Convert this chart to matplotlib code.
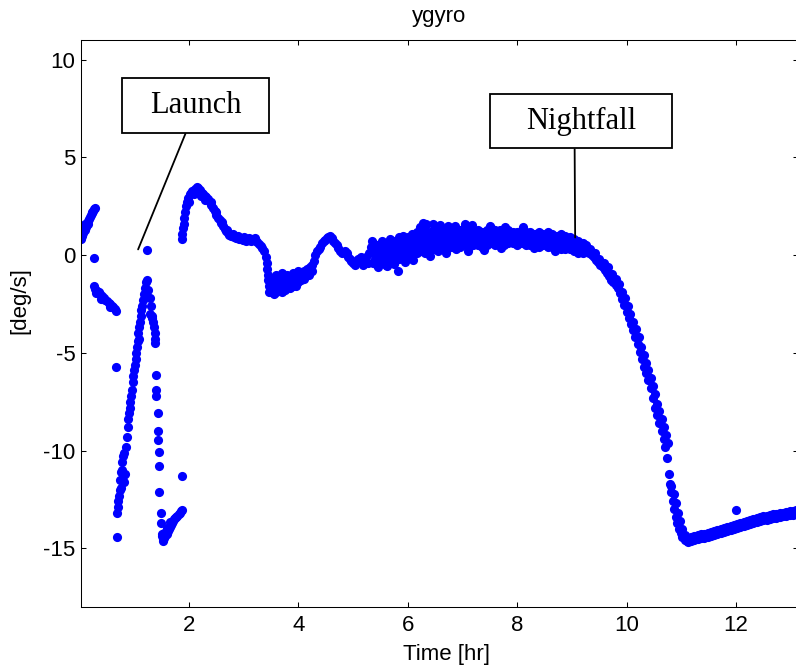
import numpy as np
import matplotlib
matplotlib.use("Agg")
import matplotlib.pyplot as plt
from matplotlib.path import Path

# ---------------- data ----------------
title = "ygyro"
xlabel = "Time [hr]"
ylabel = "[deg/s]"
xticks = [2, 4, 6, 8, 10, 12]
yticks = [-15, -10, -5, 0, 5, 10]

pre_launch_rise = [(0.03, 0.8), (0.04, 1.1), (0.05, 1.0), (0.07, 1.15), (0.09, 1.3), (0.10, 1.6),
                   (0.11, 1.45), (0.13, 1.6), (0.15, 1.75), (0.16, 1.6), (0.17, 1.85), (0.19, 1.95),
                   (0.21, 2.05), (0.22, 2.2), (0.23, 2.15), (0.25, 2.25), (0.27, 2.35), (0.29, 2.4)]
pre_launch_fall = [(0.26, -1.6), (0.29, -1.75), (0.32, -1.85), (0.35, -1.9), (0.38, -2.0), (0.41, -2.1),
                   (0.44, -2.2), (0.47, -2.3), (0.50, -2.35), (0.53, -2.45), (0.56, -2.5), (0.59, -2.6),
                   (0.62, -2.65), (0.65, -2.75), (0.67, -2.85), (0.30, -1.95), (0.40, -2.25), (0.55, -2.65)]
launch_rise = [(0.69, -13.2), (0.70, -12.9), (0.70, -12.6), (0.72, -12.3), (0.73, -12.0), (0.75, -11.9),
               (0.74, -11.5), (0.76, -11.1), (0.78, -11.0), (0.80, -11.3), (0.82, -11.6), (0.83, -11.2),
               (0.77, -10.6), (0.79, -10.3), (0.81, -10.1), (0.84, -9.8), (0.86, -9.3), (0.88, -8.8),
               (0.89, -8.4), (0.90, -8.1), (0.92, -7.8), (0.93, -7.5), (0.94, -7.2), (0.95, -6.9),
               (0.97, -6.5), (0.98, -6.2), (1.00, -5.9), (1.02, -5.6), (1.04, -5.3), (1.03, -5.0),
               (1.05, -4.7), (1.07, -4.4), (1.09, -4.3), (1.06, -4.0), (1.08, -3.7), (1.10, -3.4),
               (1.12, -3.1), (1.13, -2.8), (1.14, -2.6), (1.16, -2.3), (1.18, -2.0), (1.20, -1.7),
               (1.21, -1.4), (1.23, -1.3), (1.26, -1.8), (1.28, -2.2), (1.30, -2.6), (1.29, -3.0),
               (1.32, -3.2)]
launch_fall = [(1.33, -3.1), (1.35, -3.4), (1.36, -3.7), (1.38, -4.0), (1.37, -4.3), (1.38, -4.5),
               (1.40, -6.15), (1.40, -6.9), (1.40, -7.2), (1.43, -8.1), (1.43, -9.0), (1.43, -9.45),
               (1.46, -10.05), (1.46, -10.8), (1.46, -12.1), (1.49, -13.2), (1.49, -13.7),
               (1.50, -14.25), (1.52, -14.5)]
launch_bottom = [(1.53, -14.6), (1.55, -14.45), (1.57, -14.35), (1.59, -14.25), (1.61, -14.1),
                 (1.63, -14.0), (1.65, -13.9), (1.67, -13.8), (1.69, -13.7), (1.71, -13.6),
                 (1.73, -13.5), (1.75, -13.45), (1.77, -13.4), (1.79, -13.35), (1.81, -13.25),
                 (1.84, -13.2), (1.86, -13.1), (1.88, -13.05), (1.51, -14.35), (1.54, -14.2),
                 (1.60, -13.95), (1.66, -13.65)]
isolated = [(0.26, -0.17), (0.67, -5.73), (0.69, -14.42), (1.24, 0.24), (1.88, -11.3), (12.0, -13.02),
            (5.83, -0.82), (6.28, 1.66), (6.47, 1.57), (6.74, 1.49), (5.58, -0.39), (7.05, 1.57),
            (5.34, 0.72)]
day_peak = [(1.87, 0.8), (1.88, 1.1), (1.89, 1.4), (1.90, 1.6), (1.91, 1.9), (1.93, 2.2), (1.95, 2.5),
            (1.97, 2.7), (1.99, 2.9), (2.01, 3.1), (2.03, 3.2), (2.05, 3.3), (2.08, 3.3), (2.11, 3.4),
            (2.14, 3.5), (2.17, 3.45), (2.20, 3.35), (2.23, 3.2), (2.26, 3.1), (2.29, 3.0), (2.32, 2.95),
            (2.35, 2.85), (2.38, 2.7), (2.41, 2.55), (2.44, 2.4), (2.47, 2.25), (2.50, 2.05), (2.53, 1.9),
            (2.56, 1.8), (2.59, 1.65), (2.62, 1.5), (2.65, 1.35), (2.68, 1.25), (2.71, 1.15), (2.74, 1.05),
            (2.77, 1.0), (2.80, 0.95), (2.83, 0.9), (2.86, 0.85), (2.89, 0.85), (2.92, 0.8), (2.95, 0.8),
            (2.98, 0.75), (3.01, 0.75), (3.04, 0.7), (3.07, 0.75), (3.10, 0.75), (3.13, 0.7), (3.16, 0.8),
            (3.19, 0.75), (3.22, 0.7), (3.25, 0.65), (3.28, 0.55), (3.31, 0.45), (3.34, 0.35), (3.37, 0.2),
            (3.40, -0.1), (3.42, -0.4), (3.43, -0.7), (3.44, -1.0), (3.45, -1.3), (3.46, -1.6), (3.47, -1.9),
            (2.00, 2.7), (2.10, 3.1), (2.16, 3.2), (2.22, 3.0), (2.30, 2.8), (2.40, 2.7), (2.50, 2.2),
            (2.60, 1.7), (2.70, 1.3), (2.80, 1.1), (2.90, 0.95), (3.00, 0.9), (3.10, 0.85), (3.20, 0.85)]
day_dip = [(3.50, -1.4), (3.53, -1.8), (3.56, -1.2), (3.59, -1.6), (3.62, -1.3), (3.65, -1.7), (3.68, -1.1),
           (3.71, -1.5), (3.74, -1.2), (3.77, -1.7), (3.80, -1.3), (3.83, -1.5), (3.86, -1.1), (3.89, -1.4),
           (3.92, -1.2), (3.95, -1.0), (3.98, -1.3), (4.01, -0.9), (4.04, -1.1), (4.07, -0.9), (4.10, -0.8),
           (4.13, -1.0), (4.16, -0.7), (4.19, -0.8), (4.22, -0.6), (4.25, -0.5), (4.28, -0.3), (4.31, 0.0),
           (4.34, 0.2), (4.37, 0.3), (4.40, 0.4), (4.43, 0.6), (4.46, 0.7), (4.49, 0.75), (4.52, 0.85),
           (4.55, 0.9), (4.58, 0.95), (4.61, 0.85), (4.64, 0.7), (4.67, 0.6), (4.70, 0.5), (4.73, 0.35),
           (4.76, 0.2), (4.79, 0.1), (4.82, 0.15), (4.85, 0.2), (4.88, 0.1), (4.91, -0.1), (4.94, -0.2),
           (4.97, -0.3), (5.00, -0.4), (5.03, -0.5), (5.06, -0.3), (5.09, -0.2), (5.12, -0.35), (5.15, -0.1),
           (5.18, -0.5), (5.21, -0.3), (5.24, -0.1), (5.27, -0.4), (5.30, 0.1), (5.33, 0.4),
           (3.50, -1.9), (3.55, -2.0), (3.60, -1.9), (3.70, -1.9), (3.75, -1.8), (3.85, -1.7), (3.90, -1.6),
           (3.95, -1.6), (4.00, -1.4), (4.05, -1.3), (3.60, -1.0), (3.70, -0.9), (3.80, -1.0), (3.90, -0.9),
           (4.00, -0.8), (4.10, -1.2), (4.20, -1.0), (4.25, -0.8)]

band_t = [5.36, 5.44, 5.52, 5.60, 5.68, 5.76, 5.84, 5.92, 6.00, 6.08, 6.16, 6.24, 6.32, 6.40, 6.48, 6.56,
          6.64, 6.72, 6.80, 6.88, 6.96, 7.04, 7.12, 7.20, 7.28, 7.36, 7.44, 7.52, 7.60, 7.68, 7.76, 7.84,
          7.92, 8.00, 8.08, 8.16, 8.24, 8.32, 8.40, 8.48, 8.56, 8.64, 8.72, 8.80, 8.88, 8.96, 9.04, 9.12, 9.20]
band_upper = [0.6, 0.5, 0.7, 0.6, 0.8, 0.7, 0.9, 1.0, 0.9, 1.1, 1.2, 1.3, 1.5, 1.2, 1.3, 1.4, 1.3, 1.4, 1.3, 1.2,
              1.3, 1.5, 1.4, 1.3, 1.3, 1.2, 1.3, 1.4, 1.3, 1.3, 1.2, 1.3, 1.2, 1.2, 1.3, 1.2, 1.2, 1.1, 1.2, 1.1,
              1.2, 1.1, 1.0, 1.1, 1.0, 0.9, 0.8, 0.7, 0.6]
band_middle = [0.1, 0.0, 0.2, 0.1, 0.3, 0.2, 0.4, 0.5, 0.4, 0.5, 0.6, 0.7, 0.8, 0.6, 0.8, 0.7, 0.9, 0.8, 0.9, 0.8,
               0.9, 1.0, 0.9, 0.9, 1.0, 0.8, 0.9, 1.0, 0.9, 0.9, 0.8, 0.9, 0.9, 0.8, 0.9, 0.9, 0.8, 0.9, 0.8, 0.8,
               0.8, 0.7, 0.7, 0.7, 0.6, 0.6, 0.5, 0.4, 0.3]
band_lower = [-0.4, -0.5, -0.3, -0.5, -0.2, -0.3, -0.2, 0.0, -0.1, 0.0, 0.1, 0.2, 0.1, 0.2, 0.3, 0.2, 0.4, 0.3,
              0.4, 0.3, 0.4, 0.5, 0.4, 0.5, 0.5, 0.4, 0.5, 0.6, 0.5, 0.6, 0.5, 0.6, 0.6, 0.5, 0.6, 0.5, 0.5, 0.5,
              0.4, 0.5, 0.4, 0.4, 0.4, 0.3, 0.3, 0.3, 0.2, 0.1, 0.1]
band_t2 = [5.40, 5.48, 5.56, 5.64, 5.72, 5.80, 5.88, 5.96, 6.04, 6.12, 6.20, 6.28, 6.36, 6.44, 6.52, 6.60,
           6.68, 6.76, 6.84, 6.92, 7.00, 7.08, 7.16, 7.24, 7.32, 7.40, 7.48, 7.56, 7.64, 7.72, 7.80, 7.88,
           7.96, 8.04, 8.12, 8.20, 8.28, 8.36, 8.44, 8.52, 8.60, 8.68, 8.76, 8.84, 8.92, 9.00, 9.08, 9.16]
band_upper2 = [0.3, 0.4, 0.3, 0.5, 0.4, 0.6, 0.7, 0.6, 0.8, 0.9, 1.0, 0.9, 1.1, 1.0, 1.1, 1.2, 1.1, 1.2, 1.1, 1.2,
               1.1, 1.3, 1.2, 1.1, 1.2, 1.1, 1.2, 1.1, 1.2, 1.1, 1.0, 1.1, 1.1, 1.0, 1.1, 1.0, 1.1, 1.0, 1.0, 1.0,
               0.9, 1.0, 0.9, 0.8, 0.8, 0.7, 0.6, 0.5]
band_lower2 = [-0.2, -0.1, -0.2, 0.0, -0.1, 0.1, 0.2, 0.1, 0.2, 0.3, 0.4, 0.3, 0.5, 0.4, 0.5, 0.6, 0.5, 0.6, 0.6,
               0.6, 0.7, 0.6, 0.7, 0.7, 0.6, 0.7, 0.8, 0.7, 0.7, 0.8, 0.7, 0.7, 0.8, 0.7, 0.7, 0.7, 0.6, 0.7, 0.6,
               0.6, 0.6, 0.5, 0.5, 0.5, 0.4, 0.4, 0.3, 0.2]
band_extra = [(5.46, -0.6), (5.62, -0.55), (5.74, -0.45), (5.95, -0.35), (6.10, -0.25), (6.22, 1.45),
              (6.34, 1.6), (6.58, 1.55), (6.86, 1.5), (7.18, 1.55), (7.50, 1.5), (7.78, 1.45), (8.10, 1.45),
              (6.40, -0.05), (6.70, 0.1), (7.10, 0.2), (7.40, 0.25), (7.70, 0.35), (8.30, 0.35), (8.70, 0.2)]

nightfall_drop = [(9.24, 0.3), (9.28, 0.2), (9.32, 0.1), (9.36, 0.0), (9.40, -0.1), (9.44, -0.25), (9.48, -0.35),
                  (9.52, -0.5), (9.56, -0.6), (9.60, -0.75), (9.64, -0.9), (9.68, -1.05), (9.72, -1.25),
                  (9.76, -1.4), (9.80, -1.55), (9.84, -1.7), (9.88, -1.95), (9.92, -2.25), (9.96, -2.55),
                  (10.00, -2.9), (10.04, -3.2), (10.08, -3.5), (10.12, -3.85), (10.16, -4.2), (10.20, -4.55),
                  (10.24, -4.95), (10.28, -5.3), (10.32, -5.7), (10.36, -6.05), (10.40, -6.4), (10.44, -6.8),
                  (10.48, -7.3), (10.52, -7.8), (10.56, -8.2), (10.60, -8.6), (10.64, -9.0), (10.68, -9.4),
                  (10.71, -9.8), (10.74, -10.4), (10.77, -11.2), (10.79, -11.7), (10.81, -12.1), (10.84, -12.6),
                  (10.87, -13.0), (10.90, -13.4), (10.93, -13.7), (10.96, -14.0), (10.99, -14.2), (11.02, -14.4),
                  (11.06, -14.55), (11.10, -14.6),
                  (9.26, 0.5), (9.34, 0.3), (9.42, 0.1), (9.50, -0.2), (9.58, -0.4), (9.66, -0.6), (9.74, -0.95),
                  (9.80, -1.2), (9.86, -1.5), (9.92, -1.9), (9.97, -2.2), (10.02, -2.6), (10.07, -3.0),
                  (10.12, -3.4), (10.17, -3.8), (10.22, -4.2), (10.27, -4.7), (10.31, -5.1), (10.35, -5.5),
                  (10.40, -5.9), (10.44, -6.3), (10.48, -6.7), (10.52, -7.1), (10.56, -7.6), (10.60, -8.0),
                  (10.64, -8.4), (10.68, -8.8), (10.72, -9.2), (10.75, -9.6), (10.82, -11.8), (10.86, -12.2),
                  (10.90, -12.7), (10.94, -13.2), (10.98, -13.6), (11.02, -14.0), (11.06, -14.3)]

night_t = [11.12, 11.18, 11.24, 11.30, 11.36, 11.42, 11.48, 11.54, 11.60, 11.66, 11.72, 11.78, 11.84, 11.90,
           11.96, 12.02, 12.08, 12.14, 12.20, 12.26, 12.32, 12.38, 12.44, 12.50, 12.56, 12.62, 12.68, 12.74,
           12.80, 12.86, 12.92, 12.98, 13.04, 13.10]
night_upper = [-14.45, -14.4, -14.35, -14.32, -14.28, -14.25, -14.2, -14.15, -14.1, -14.05, -14.0, -13.95,
               -13.9, -13.85, -13.8, -13.75, -13.7, -13.65, -13.6, -13.55, -13.5, -13.45, -13.4, -13.37,
               -13.33, -13.3, -13.26, -13.23, -13.2, -13.17, -13.14, -13.1, -13.07, -13.03]
night_lower = [-14.65, -14.6, -14.55, -14.52, -14.48, -14.45, -14.4, -14.35, -14.3, -14.25, -14.2, -14.15,
               -14.1, -14.05, -14.0, -13.95, -13.9, -13.85, -13.8, -13.75, -13.7, -13.65, -13.6, -13.57,
               -13.53, -13.5, -13.46, -13.43, -13.4, -13.37, -13.34, -13.3, -13.27, -13.23]

# (label, point, box centre, horizontal padding in em, line start along box bottom)
annotations = [("Launch", (1.07, 0.29), (2.12, 7.64), 0.90, 0.45),
               ("Nightfall", (9.06, 0.9), (9.17, 6.85), 1.18, 0.44)]

# ---------------- assemble ----------------
pairs = (pre_launch_rise + pre_launch_fall + launch_rise + launch_fall + launch_bottom +
         isolated + day_peak + day_dip + band_extra + nightfall_drop)
t_all = [p[0] for p in pairs]
y_all = [p[1] for p in pairs]
for ts, ys in ((band_t, band_upper), (band_t, band_middle), (band_t, band_lower),
               (band_t2, band_upper2), (band_t2, band_lower2),
               (night_t, night_upper), (night_t, night_lower)):
    n = min(len(ts), len(ys))
    t_all += ts[:n]
    y_all += ys[:n]

# ---------------- figure ----------------
plt.rcParams['font.family'] = ['Liberation Sans', 'DejaVu Sans']
W, H = 796, 668
fig = plt.figure(figsize=(W / 100, H / 100), dpi=100)
ax = fig.add_axes([81 / W, 1 - 607 / H, (798 - 81) / W, (607 - 40) / H])

ax.plot(t_all, y_all, 'o', color='#0000ff', ms=6.6, mew=0, zorder=2)

ax.set_xlim(0.026, 13.134)
ax.set_ylim(-18, 11)
ax.set_xticks(xticks)
ax.set_yticks(yticks)
ax.set_xticklabels([str(v) for v in xticks])
ax.set_yticklabels([str(v) for v in yticks])
ax.tick_params(direction='in', top=True, right=True, length=3.6, width=0.75,
               labelsize=16, colors='black')
ax.tick_params(axis='x', pad=6)
ax.tick_params(axis='y', pad=4)
for s in ax.spines.values():
    s.set_linewidth(0.75)
    s.set_color('black')

ax.set_title(title, fontsize=16, pad=13)
ax.set_xlabel(xlabel, fontsize=16)
ax.set_ylabel(ylabel, fontsize=16)
ax.xaxis.set_label_coords(0.51, -0.065)
ax.yaxis.set_label_coords(-0.07, 0.54)


def make_box(hpad_em, vpad_em):
    def box(x0, y0, width, height, mutation_size):
        hp = hpad_em * mutation_size
        vp = vpad_em * mutation_size
        return Path([(x0 - hp, y0 - vp), (x0 + width + hp, y0 - vp),
                     (x0 + width + hp, y0 + height + vp), (x0 - hp, y0 + height + vp),
                     (x0 - hp, y0 - vp)], closed=True)
    return box


for label, xy, xytext, hpad, rx in annotations:
    ax.annotate(label, xy=xy, xytext=xytext,
                textcoords='data', ha='center', va='center',
                fontsize=22, family=['Liberation Serif', 'DejaVu Serif'],
                bbox=dict(boxstyle=make_box(hpad, 0.42), fc='white', ec='black', lw=1.3),
                arrowprops=dict(arrowstyle='-', color='black', lw=1.3,
                                shrinkA=0, shrinkB=0, relpos=(rx, 0)),
                zorder=5)

fig.savefig("out.png", dpi=100)
